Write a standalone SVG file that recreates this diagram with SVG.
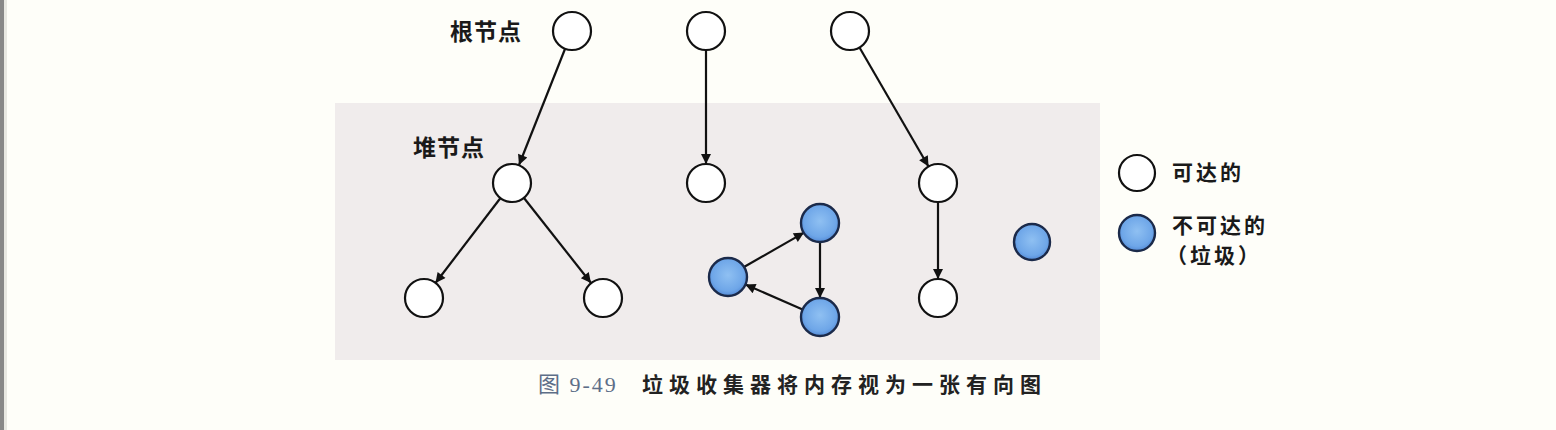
<svg xmlns="http://www.w3.org/2000/svg" width="1556" height="430" viewBox="0 0 1556 430">
<style>
.n{fill:#ffffff;stroke:#111111;stroke-width:2.2}
.b{fill:url(#blue);stroke:#1b2a4a;stroke-width:2.4}
.e{stroke:#111111;stroke-width:2.2;fill:none;marker-end:url(#ah)}
.lbl{font-family:"Noto Sans CJK SC","Noto Sans",sans-serif;font-weight:bold;font-size:23px;fill:#1a1a1a;letter-spacing:1px}
.leg{font-family:"Noto Sans CJK SC","Noto Sans",sans-serif;font-weight:bold;font-size:21px;fill:#1a1a1a;letter-spacing:3px}
.capn{font-family:"Liberation Serif","Noto Sans CJK SC",serif;font-size:22px;fill:#5d6e88;letter-spacing:2px}
.capt{font-family:"Noto Sans CJK SC","Noto Sans",sans-serif;font-weight:bold;font-size:21px;fill:#222222;letter-spacing:6px}
</style>
<defs>
<radialGradient id="blue" cx="0.5" cy="0.45" r="0.6">
<stop offset="0" stop-color="#8fc0f2"/>
<stop offset="0.7" stop-color="#6ea6e8"/>
<stop offset="1" stop-color="#4a80d0"/>
</radialGradient>
<marker id="ah" viewBox="0 0 10 10" refX="10" refY="5" markerWidth="13" markerHeight="10" markerUnits="userSpaceOnUse" orient="auto">
<path d="M0,0 L10,5 L0,10 z" fill="#111111"/>
</marker>
</defs>
<rect x="0" y="0" width="1556" height="430" fill="#fefef9"/>
<rect x="0" y="0" width="4" height="430" fill="#888888"/>
<rect x="4" y="0" width="3" height="430" fill="#e8e8e2"/>
<rect x="335" y="103" width="765" height="257" fill="#f0ecec"/>
<g id="connectors">
<line class="e" x1="565" y1="49" x2="519" y2="165"/>
<line class="e" x1="706" y1="50" x2="706" y2="164"/>
<line class="e" x1="859.5" y1="47.5" x2="928.5" y2="166.5"/>
<line class="e" x1="500.5" y1="198" x2="435.5" y2="283"/>
<line class="e" x1="524" y1="198" x2="591" y2="283"/>
<line class="e" x1="938" y1="202" x2="938" y2="279"/>
<line class="e" x1="744" y1="267" x2="804" y2="232.6"/>
<line class="e" x1="820" y1="242" x2="820" y2="298"/>
<line class="e" x1="802.6" y1="309.4" x2="745.4" y2="284.6"/>
</g>
<g id="root1"><circle class="n" cx="572" cy="31" r="19"/></g>
<g id="root2"><circle class="n" cx="706" cy="31" r="19"/></g>
<g id="root3"><circle class="n" cx="850" cy="31" r="19"/></g>
<g id="heap1"><circle class="n" cx="512" cy="183" r="19"/></g>
<g id="heap2"><circle class="n" cx="706" cy="183" r="19"/></g>
<g id="heap3"><circle class="n" cx="938" cy="183" r="19"/></g>
<g id="leafL"><circle class="n" cx="424" cy="298" r="19"/></g>
<g id="leafR"><circle class="n" cx="603" cy="298" r="19"/></g>
<g id="leaf3"><circle class="n" cx="938" cy="298" r="19"/></g>
<g id="g_top"><circle class="b" cx="820" cy="223" r="19"/></g>
<g id="g_left"><circle class="b" cx="728" cy="277" r="19"/></g>
<g id="g_bottom"><circle class="b" cx="820" cy="317" r="19"/></g>
<g id="g_single"><circle class="b" cx="1032" cy="242" r="18"/></g>
<g id="label_root"><text class="lbl" x="450" y="40">根节点</text></g>
<g id="label_heap"><text class="lbl" x="413" y="156">堆节点</text></g>
<g id="legend_reach">
<circle class="n" cx="1137" cy="173" r="18"/>
<text class="leg" x="1172" y="180">可达的</text>
</g>
<g id="legend_unreach">
<circle class="b" cx="1137" cy="233" r="18"/>
<text class="leg" x="1172" y="233">不可达的</text>
<text class="leg" x="1166" y="263">（垃圾）</text>
</g>
<g id="caption">
<text class="capn" x="538" y="392">图 9-49</text>
<text class="capt" x="642" y="392">垃圾收集器将内存视为一张有向图</text>
</g>
</svg>
